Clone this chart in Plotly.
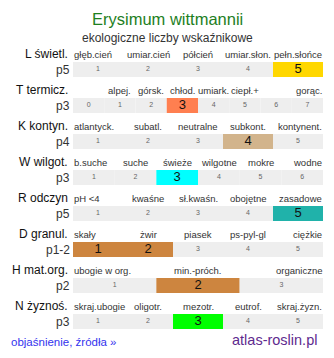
import plotly.graph_objects as go

# Ecological indicator values (Ellenberg-style) for Erysimum wittmannii
species = "Erysimum wittmannii"
subtitle = "ekologiczne liczby wskaźnikowe"

row_names = ["L świetl.", "T termicz.", "K kontyn.", "W wilgot.",
             "R odczyn", "D granul.", "H mat.org.", "N żyznoś."]
row_scores = ["p5", "p3", "p4", "p3", "p5", "p1-2", "p2", "p3"]

scale_L = [1, 2, 3, 4, 5]
scale_T = [0, 1, 2, 3, 4, 5, 6, 7]
scale_K = [1, 2, 3, 4, 5]
scale_W = [1, 2, 3, 4, 5, 6]
scale_R = [1, 2, 3, 4, 5]
scale_D = [1, 2, 3, 4, 5]
scale_H = [1, 2, 3]
scale_N = [1, 2, 3, 4, 5]
scales = [scale_L, scale_T, scale_K, scale_W, scale_R, scale_D, scale_H, scale_N]

labels_L = ["głęb.cień", "umiar.cień", "półcień", "umiar.słon.", "pełn.słońce"]
labels_T = ["", "alpej.", "górsk.", "chłod.", "umiark.", "ciepł.+", "", "gorąc."]
labels_K = ["atlantyck.", "subatl.", "neutralne", "subkont.", "kontynent."]
labels_W = ["b.suche", "suche", "świeże", "wilgotne", "mokre", "wodne"]
labels_R = ["pH <4", "kwaśne", "sł.kwaśn.", "obojętne", "zasadowe"]
labels_D = ["skały", "żwir", "piasek", "ps-pyl-gl", "ciężkie"]
labels_H = ["ubogie w org.", "min.-próch.", "organiczne"]
labels_N = ["skraj.ubogie", "oligotr.", "mezotr.", "eutrof.", "skraj.żyzn."]
cell_labels = [labels_L, labels_T, labels_K, labels_W, labels_R, labels_D, labels_H, labels_N]

# selected value(s) on each scale
selected = [[5], [3], [4], [3], [5], [1, 2], [2], [3]]
highlight_colors = ["#FFD700", "#FF7F50", "#D2B48C", "#00FFFF",
                    "#20B2AA", "#CD853F", "#CD853F", "#00FF00"]

W, H = 334, 358
BG_CELL = "#EEEEEE"
FONT = "Liberation Sans, Arial, sans-serif"

# y axis in row units: row i centred at pixel 69.5 + 36*i
ROW_PX0, ROW_STEP = 69.5, 36.0
y_top = (0 - ROW_PX0) / ROW_STEP
y_bot = (H - ROW_PX0) / ROW_STEP
BAR_H = 15 / ROW_STEP
LABEL_DY = -15.5 / ROW_STEP

fig = go.Figure()

bar_x, bar_base, bar_y, bar_col = [], [], [], []
num_x, num_y, num_t, num_size, num_col = [], [], [], [], []
annotations = []

for i, (scale, labs, sel, hc) in enumerate(zip(scales, cell_labels, selected, highlight_colors)):
    n = len(scale)
    w = 1.0 / n
    for j, v in enumerate(scale):
        on = v in sel
        bar_x.append(w)
        bar_base.append(j * w)
        bar_y.append(i)
        bar_col.append(hc if on else BG_CELL)
        num_x.append((j + 0.5) * w)
        num_y.append(i)
        num_t.append(str(v))
        num_size.append(13 if on else 7)
        num_col.append("#111111" if on else "#666666")
        lab = labs[j]
        if not lab:
            continue
        if j == 0:
            ax, anchor = 0.0, "left"
        elif j == n - 1:
            ax, anchor = 1.0, "right"
        else:
            ax, anchor = (j + 0.5) * w, "center"
        annotations.append(dict(
            x=ax, y=i + LABEL_DY, xref="x", yref="y", text=lab,
            xanchor=anchor, yanchor="middle", showarrow=False, borderpad=0,
            font=dict(family=FONT, size=9.5, color="#333333")))

    # row name and score, right-aligned left of the scale bar
    annotations.append(dict(
        x=69 / W, y=i + LABEL_DY, xref="paper", yref="y", text=row_names[i],
        xanchor="right", yanchor="middle", showarrow=False, borderpad=0,
        font=dict(family=FONT, size=12, color="#111111")))
    annotations.append(dict(
        x=70.5 / W, y=i, xref="paper", yref="y", text=row_scores[i],
        xanchor="right", yanchor="middle", showarrow=False, borderpad=0,
        font=dict(family=FONT, size=12, color="#333333")))

fig.add_trace(go.Bar(
    x=bar_x, base=bar_base, y=bar_y, orientation="h", width=BAR_H,
    marker=dict(color=bar_col, line=dict(width=0)),
    hoverinfo="skip", showlegend=False))

fig.add_trace(go.Scatter(
    x=num_x, y=num_y, text=num_t, mode="text", textposition="middle center",
    textfont=dict(family=FONT, size=num_size, color=num_col),
    hoverinfo="skip", showlegend=False))

def py(p):
    return 1 - p / H

annotations += [
    dict(x=0.5, y=py(19), xref="paper", yref="paper", text=species,
         xanchor="center", yanchor="middle", showarrow=False,
         font=dict(family=FONT, size=16.5, color="#1E801E")),
    dict(x=0.5, y=py(38), xref="paper", yref="paper", text=subtitle,
         xanchor="center", yanchor="middle", showarrow=False,
         font=dict(family=FONT, size=12, color="#333333")),
    dict(x=9 / W, y=py(342), xref="paper", yref="paper", text="objaśnienie, źródła »",
         xanchor="left", yanchor="middle", showarrow=False,
         font=dict(family=FONT, size=11.5, color="#3333EE")),
    dict(x=319 / W, y=py(340), xref="paper", yref="paper", text="atlas-roslin.pl",
         xanchor="right", yanchor="middle", showarrow=False,
         font=dict(family=FONT, size=14.5, color="#5E2A8E")),
]

fig.update_layout(
    width=W, height=H,
    margin=dict(l=0, r=0, t=0, b=0),
    paper_bgcolor="white", plot_bgcolor="white",
    barmode="overlay",
    xaxis=dict(domain=[73 / W, 323 / W], range=[0, 1], visible=False, fixedrange=True),
    yaxis=dict(domain=[0, 1], range=[y_bot, y_top], visible=False, fixedrange=True),
    annotations=annotations,
)

fig.write_html("out.html", config={"displayModeBar": False})
